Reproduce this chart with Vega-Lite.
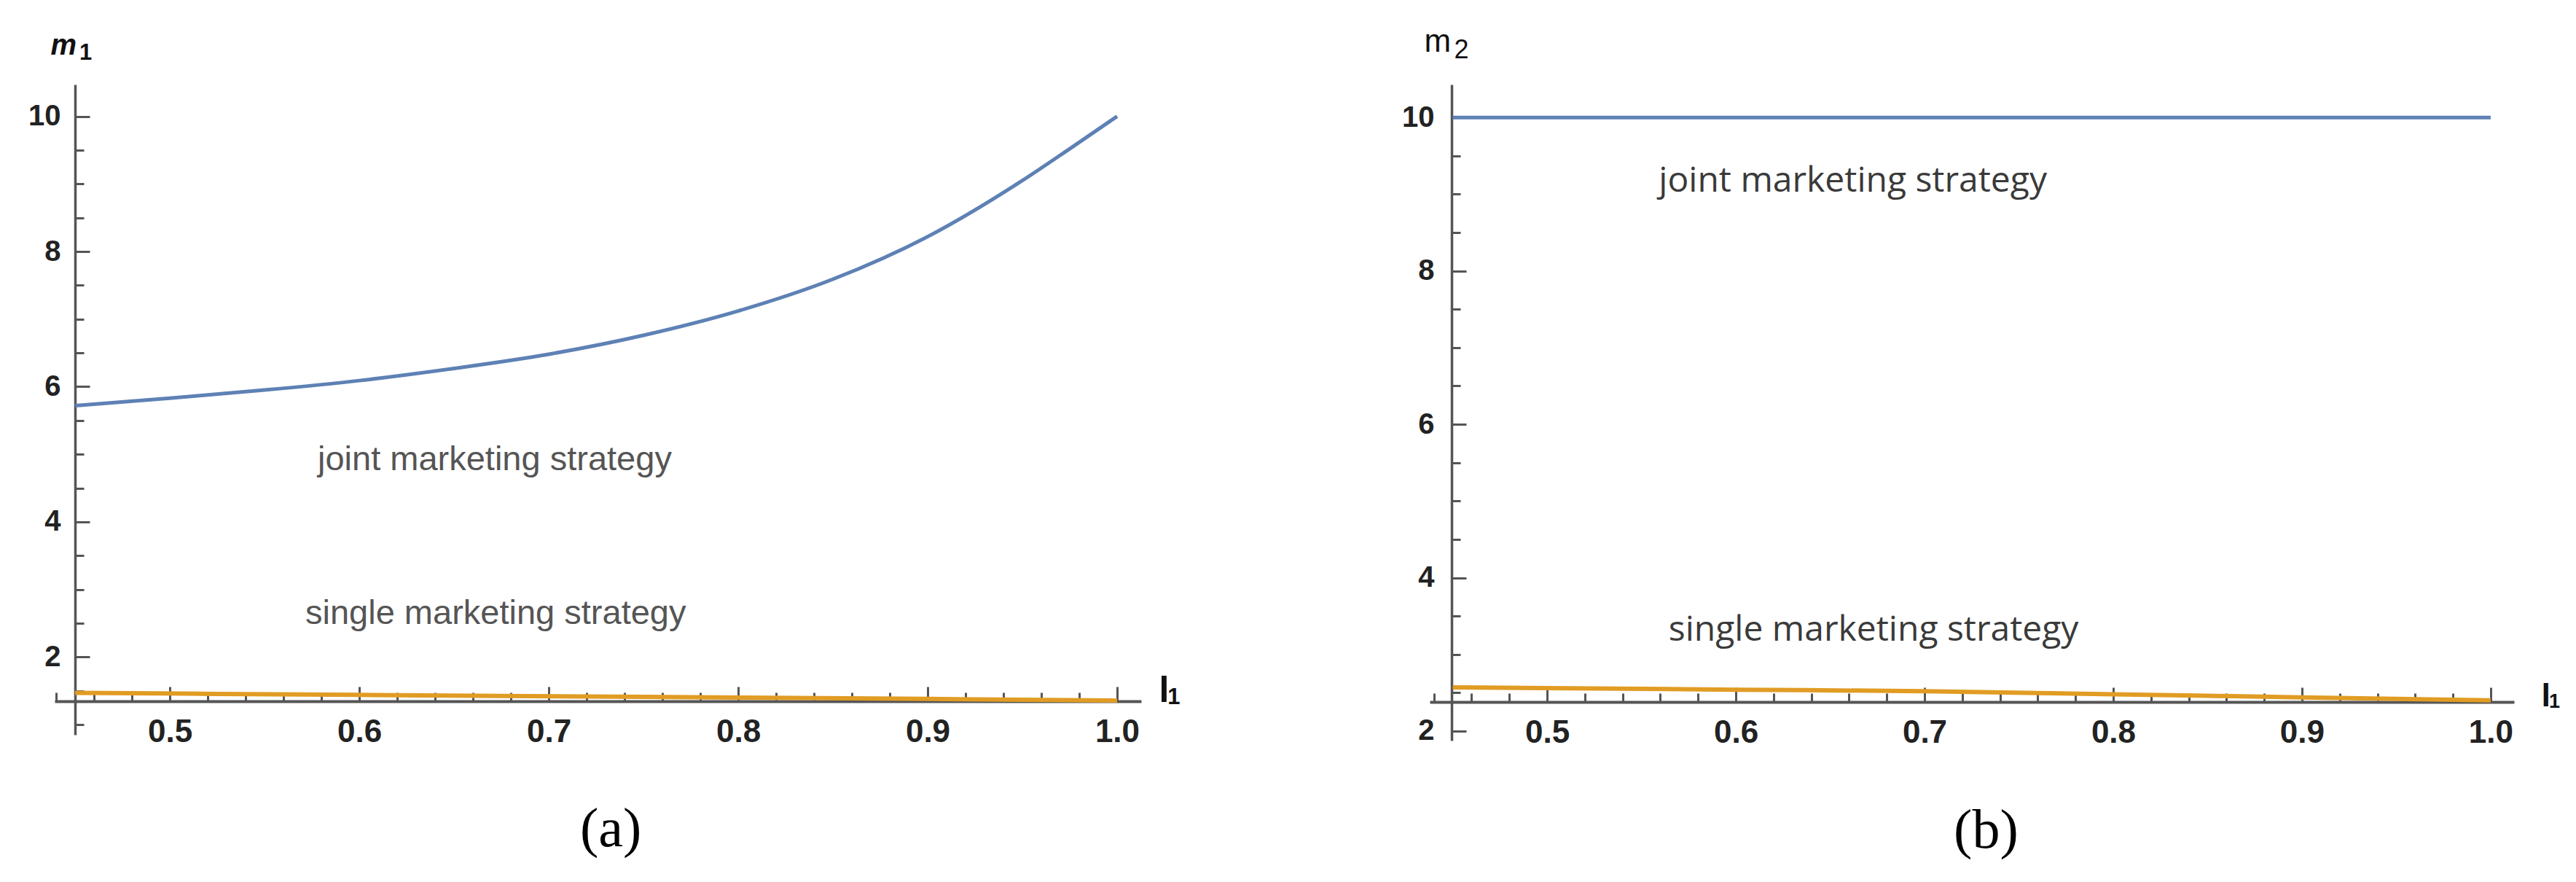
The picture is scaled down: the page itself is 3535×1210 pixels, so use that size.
{
  "$schema": "https://vega.github.io/schema/vega-lite/v6.json",
  "background": "white",
  "autosize": {"type": "pad"},
  "padding": {"left": 38, "top": 35, "right": 5, "bottom": 5},
  "bounds": "flush",
  "spacing": 396,
  "config": {"view": {"stroke": null}, "axis": {"grid": false}},
  "datasets": {
    "curves": [
      {"panel": "a", "series": "joint", "l": 0.45, "m": 5.72},
      {"panel": "a", "series": "joint", "l": 0.5, "m": 5.83},
      {"panel": "a", "series": "joint", "l": 0.55, "m": 5.95},
      {"panel": "a", "series": "joint", "l": 0.6, "m": 6.09},
      {"panel": "a", "series": "joint", "l": 0.65, "m": 6.27},
      {"panel": "a", "series": "joint", "l": 0.7, "m": 6.48},
      {"panel": "a", "series": "joint", "l": 0.75, "m": 6.76},
      {"panel": "a", "series": "joint", "l": 0.8, "m": 7.12},
      {"panel": "a", "series": "joint", "l": 0.85, "m": 7.59},
      {"panel": "a", "series": "joint", "l": 0.9, "m": 8.22},
      {"panel": "a", "series": "joint", "l": 0.95, "m": 9.05},
      {"panel": "a", "series": "joint", "l": 0.975, "m": 9.52},
      {"panel": "a", "series": "joint", "l": 1.0, "m": 10.0},
      {"panel": "a", "series": "single", "l": 0.45, "m": 1.47},
      {"panel": "a", "series": "single", "l": 0.6, "m": 1.44},
      {"panel": "a", "series": "single", "l": 0.75, "m": 1.41},
      {"panel": "a", "series": "single", "l": 0.9, "m": 1.38},
      {"panel": "a", "series": "single", "l": 1.0, "m": 1.355},
      {"panel": "b", "series": "joint", "l": 0.45, "m": 10.0},
      {"panel": "b", "series": "joint", "l": 1.0, "m": 10.0},
      {"panel": "b", "series": "single", "l": 0.45, "m": 2.57},
      {"panel": "b", "series": "single", "l": 0.6, "m": 2.54},
      {"panel": "b", "series": "single", "l": 0.7, "m": 2.52},
      {"panel": "b", "series": "single", "l": 0.8, "m": 2.48},
      {"panel": "b", "series": "single", "l": 0.9, "m": 2.44},
      {"panel": "b", "series": "single", "l": 1.0, "m": 2.4}
    ],
    "texts": [
      {"panel": "a", "kind": "note", "label": "joint marketing strategy", "l": 0.6715, "m": 4.77},
      {"panel": "a", "kind": "note", "label": "single marketing strategy", "l": 0.672, "m": 2.485},
      {"panel": "b", "kind": "note", "label": "joint marketing strategy", "l": 0.662, "m": 9.03},
      {"panel": "b", "kind": "note", "label": "single marketing strategy", "l": 0.673, "m": 3.18},
      {"panel": "a", "kind": "caption", "label": "(a)", "l": 0.7327, "m": -0.8},
      {"panel": "b", "kind": "caption", "label": "(b)", "l": 0.7326, "m": 0.48},
      {"panel": "a", "kind": "msub", "label": "1", "l": 0.4556, "m": 10.836},
      {"panel": "a", "kind": "lsub", "label": "1", "l": 1.03, "m": 1.3},
      {"panel": "b", "kind": "msub", "label": "2", "l": 0.4546, "m": 10.77},
      {"panel": "b", "kind": "lsub", "label": "1", "l": 1.0338, "m": 2.3}
    ]
  },
  "hconcat": [
    {
      "width": 1491,
      "height": 892,
      "encoding": {
        "x": {
          "field": "l", "type": "quantitative",
          "scale": {"domain": [0.4392, 1.0127], "nice": false, "zero": false},
          "axis": {
            "title": "l",
            "values": [0.44, 0.46, 0.48, 0.5, 0.52, 0.54, 0.56, 0.58, 0.6, 0.62, 0.64, 0.66, 0.68, 0.7, 0.72, 0.74, 0.76, 0.78, 0.8, 0.82, 0.84, 0.86, 0.88, 0.9, 0.92, 0.94, 0.96, 0.98, 1.0],
            "labelExpr": "abs(datum.value*10 - round(datum.value*10)) < 0.001 && datum.value > 0.45 ? format(datum.value, '.1f') : ''",
            "offset": -46,
            "domainColor": "#555555", "domainWidth": 4,
            "tickColor": "#555555", "tickWidth": 3,
            "tickSize": {"condition": {"test": "abs(datum.value*10 - round(datum.value*10)) < 0.001", "value": -20}, "value": -12},
            "labelPadding": 40,
            "labelFont": "Liberation Sans", "labelFontWeight": "bold", "labelFontSize": 44, "labelColor": "#222222",
            "labelFlush": false, "labelOverlap": false,
            "titleFont": "Liberation Sans", "titleFontWeight": "bold", "titleFontSize": 50, "titleColor": "#111111",
            "titleAlign": "left", "titleBaseline": "alphabetic", "titleAngle": 0, "titleX": 1515, "titleY": 0
          }
        },
        "y": {
          "field": "m", "type": "quantitative",
          "scale": {"domain": [0.85, 10.47], "nice": false, "zero": false},
          "axis": {
            "title": "m",
            "values": [1, 1.5, 2, 2.5, 3, 3.5, 4, 4.5, 5, 5.5, 6, 6.5, 7, 7.5, 8, 8.5, 9, 9.5, 10],
            "labelExpr": "abs(datum.value/2 - round(datum.value/2)) < 0.001 ? format(datum.value, 'd') : ''",
            "offset": -28,
            "domainColor": "#555555", "domainWidth": 3.5,
            "tickColor": "#555555", "tickWidth": 3,
            "tickSize": {"condition": {"test": "abs(datum.value/2 - round(datum.value/2)) < 0.001", "value": -20}, "value": -12},
            "labelPadding": 40,
            "labelFont": "Liberation Sans", "labelFontWeight": "bold", "labelFontSize": 40, "labelColor": "#222222",
            "labelOverlap": false, "labelFlush": false,
            "titleFont": "Liberation Sans", "titleFontWeight": "bold", "titleFontStyle": "italic", "titleFontSize": 40, "titleColor": "#111111",
            "titleAngle": 0, "titleAlign": "left", "titleBaseline": "alphabetic", "titleX": -34, "titleY": -42
          }
        }
      },
      "layer": [
        {
          "data": {"name": "curves"},
          "transform": [{"filter": "datum.panel === 'a' && datum.series === 'single'"}],
          "mark": {"type": "line", "color": "#E19C24", "strokeWidth": 6, "interpolate": "monotone"}
        },
        {
          "data": {"name": "curves"},
          "transform": [{"filter": "datum.panel === 'a' && datum.series === 'joint'"}],
          "mark": {"type": "line", "color": "#5E81B5", "strokeWidth": 5, "interpolate": "monotone"}
        },
        {
          "data": {"name": "texts"},
          "transform": [{"filter": "datum.panel === 'a' && datum.kind === 'note'"}],
          "mark": {"type": "text", "font": "Liberation Sans", "fontSize": 47, "color": "#555555", "align": "center", "baseline": "alphabetic"},
          "encoding": {"text": {"field": "label"}}
        },
        {
          "data": {"name": "texts"},
          "transform": [{"filter": "datum.panel === 'a' && (datum.kind === 'msub' || datum.kind === 'lsub')"}],
          "mark": {"type": "text", "font": "Liberation Sans", "fontSize": 31, "fontWeight": "bold", "color": "#111111", "align": "center", "baseline": "alphabetic"},
          "encoding": {"text": {"field": "label"}}
        },
        {
          "data": {"name": "texts"},
          "transform": [{"filter": "datum.panel === 'a' && datum.kind === 'caption'"}],
          "mark": {"type": "text", "font": "Liberation Serif", "fontSize": 76, "color": "#000000", "align": "center", "baseline": "alphabetic"},
          "encoding": {"text": {"field": "label"}}
        }
      ]
    },
    {
      "width": 1488,
      "height": 900,
      "encoding": {
        "x": {
          "field": "l", "type": "quantitative",
          "scale": {"domain": [0.4378, 1.0124], "nice": false, "zero": false},
          "axis": {
            "title": "l",
            "values": [0.44, 0.46, 0.48, 0.5, 0.52, 0.54, 0.56, 0.58, 0.6, 0.62, 0.64, 0.66, 0.68, 0.7, 0.72, 0.74, 0.76, 0.78, 0.8, 0.82, 0.84, 0.86, 0.88, 0.9, 0.92, 0.94, 0.96, 0.98, 1.0],
            "labelExpr": "abs(datum.value*10 - round(datum.value*10)) < 0.001 && datum.value > 0.45 ? format(datum.value, '.1f') : ''",
            "offset": -53,
            "domainColor": "#555555", "domainWidth": 4,
            "tickColor": "#555555", "tickWidth": 3,
            "tickSize": {"condition": {"test": "abs(datum.value*10 - round(datum.value*10)) < 0.001", "value": -20}, "value": -12},
            "labelPadding": 40,
            "labelFont": "Liberation Sans", "labelFontWeight": "bold", "labelFontSize": 44, "labelColor": "#222222",
            "labelFlush": false, "labelOverlap": false,
            "titleFont": "Liberation Sans", "titleFontWeight": "bold", "titleFontSize": 45, "titleColor": "#111111",
            "titleAlign": "left", "titleBaseline": "alphabetic", "titleAngle": 0, "titleX": 1525, "titleY": 5
          }
        },
        "y": {
          "field": "m", "type": "quantitative",
          "scale": {"domain": [1.876, 10.43], "nice": false, "zero": false},
          "axis": {
            "title": "m",
            "values": [2, 2.5, 3, 3.5, 4, 4.5, 5, 5.5, 6, 6.5, 7, 7.5, 8, 8.5, 9, 9.5, 10],
            "labelExpr": "abs(datum.value/2 - round(datum.value/2)) < 0.001 ? format(datum.value, 'd') : ''",
            "offset": -30,
            "domainColor": "#555555", "domainWidth": 3.5,
            "tickColor": "#555555", "tickWidth": 3,
            "tickSize": {"condition": {"test": "abs(datum.value/2 - round(datum.value/2)) < 0.001", "value": -20}, "value": -12},
            "labelPadding": 44,
            "labelFont": "Liberation Sans", "labelFontWeight": "bold", "labelFontSize": 40, "labelColor": "#222222",
            "labelOverlap": false, "labelFlush": false,
            "titleFont": "Liberation Sans", "titleFontWeight": "normal", "titleFontSize": 44, "titleColor": "#111111",
            "titleAngle": 0, "titleAlign": "left", "titleBaseline": "alphabetic", "titleX": -38, "titleY": -46
          }
        }
      },
      "layer": [
        {
          "data": {"name": "curves"},
          "transform": [{"filter": "datum.panel === 'b' && datum.series === 'single'"}],
          "mark": {"type": "line", "color": "#E19C24", "strokeWidth": 6, "interpolate": "monotone"}
        },
        {
          "data": {"name": "curves"},
          "transform": [{"filter": "datum.panel === 'b' && datum.series === 'joint'"}],
          "mark": {"type": "line", "color": "#5E81B5", "strokeWidth": 5, "interpolate": "monotone"}
        },
        {
          "data": {"name": "texts"},
          "transform": [{"filter": "datum.panel === 'b' && datum.kind === 'note'"}],
          "mark": {"type": "text", "font": "Open Sans", "fontSize": 48, "color": "#3a3a3a", "align": "center", "baseline": "alphabetic"},
          "encoding": {"text": {"field": "label"}}
        },
        {
          "data": {"name": "texts"},
          "transform": [{"filter": "datum.panel === 'b' && datum.kind === 'msub'"}],
          "mark": {"type": "text", "font": "Liberation Sans", "fontSize": 36, "color": "#111111", "align": "center", "baseline": "alphabetic"},
          "encoding": {"text": {"field": "label"}}
        },
        {
          "data": {"name": "texts"},
          "transform": [{"filter": "datum.panel === 'b' && datum.kind === 'lsub'"}],
          "mark": {"type": "text", "font": "Liberation Sans", "fontSize": 27, "fontWeight": "bold", "color": "#111111", "align": "center", "baseline": "alphabetic"},
          "encoding": {"text": {"field": "label"}}
        },
        {
          "data": {"name": "texts"},
          "transform": [{"filter": "datum.panel === 'b' && datum.kind === 'caption'"}],
          "mark": {"type": "text", "font": "Liberation Serif", "fontSize": 76, "color": "#000000", "align": "center", "baseline": "alphabetic"},
          "encoding": {"text": {"field": "label"}}
        }
      ]
    }
  ]
}
